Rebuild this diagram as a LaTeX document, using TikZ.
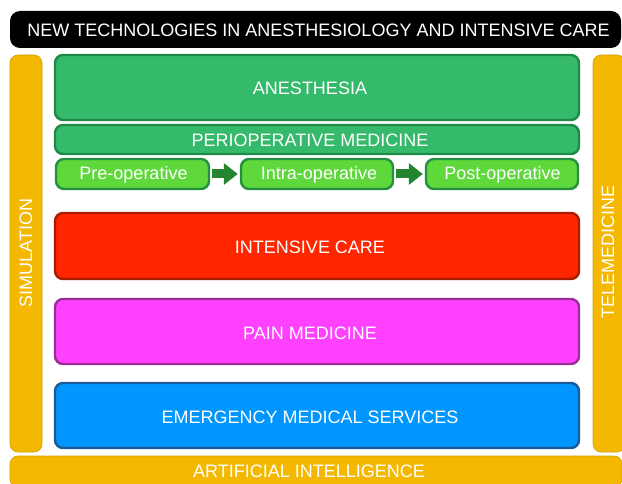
\documentclass[tikz,border=0pt]{standalone}
\usepackage{fontspec}
\setmainfont{Liberation Sans}
\usetikzlibrary{arrows.meta}
\definecolor{gold}{HTML}{F5B800}
\definecolor{goldline}{HTML}{D0A000}
\definecolor{angreen}{HTML}{35B96B}
\definecolor{angreenline}{HTML}{1E8A48}
\definecolor{ltgreen}{HTML}{5ED83B}
\definecolor{ltgreenline}{HTML}{22903E}
\definecolor{arrowgreen}{HTML}{23862F}
\definecolor{icured}{HTML}{FF2600}
\definecolor{icuredline}{HTML}{A81C00}
\definecolor{painmag}{HTML}{FF40FF}
\definecolor{painmagline}{HTML}{9A2C9A}
\definecolor{emsblue}{HTML}{0096FF}
\definecolor{emsblueline}{HTML}{1A5A96}
\tikzset{
  lbl/.style={font=\fontsize{18}{21}\selectfont, text=white, inner sep=0pt, align=center},
  caps/.style={lbl, text height=12.9pt, text depth=0pt},
  box/.style={lbl, rounded corners=8pt, line width=2.4pt},
  bar/.style={lbl, rounded corners=8pt, fill=gold, draw=goldline, line width=0.6pt},
  flow/.style={-{Triangle[length=14pt,width=21pt]}, line width=9pt, draw=arrowgreen, shorten <=2pt, shorten >=2pt}
}
\begin{document}
\begin{tikzpicture}[x=1pt,y=-1pt]
\useasboundingbox (0,0) rectangle (622,484);
\begin{scope}
\clip (0,0) rectangle (622,484);
% title
\node[lbl, fill=black, rounded corners=10pt, minimum width=611pt, minimum height=37pt] (title) at (315.5,29.5) {};
\node[caps] (titleT) at ([xshift=3pt,yshift=-0.5pt]title.center) {NEW TECHNOLOGIES IN ANESTHESIOLOGY AND INTENSIVE CARE};
% side bars
\node[bar, minimum width=32pt, minimum height=397pt] (simbar) at (26,253.5) {};
\node[lbl, rotate=90] (sim) at (26,253) {SIMULATION};
\node[bar, minimum width=32pt, minimum height=397pt] (telbar) at (609,253.5) {};
\node[lbl, rotate=90] (tel) at (608,252) {TELEMEDICINE};
% bottom bar
\node[bar, minimum width=612pt, minimum height=31pt] (ai) at (316,471.5) {};
\node[caps] (aiT) at (309,471.5) {ARTIFICIAL INTELLIGENCE};
% main boxes
\node[box, fill=angreen, draw=angreenline, minimum width=524pt, minimum height=65pt] (anes) at (317,87.5) {};
\node[caps] (anesT) at ([xshift=-7pt,yshift=-1pt]anes.center) {ANESTHESIA};
\node[box, fill=angreen, draw=angreenline, minimum width=524pt, minimum height=29pt] (peri) at (317,139.5) {};
\node[caps] (periT) at ([xshift=-7pt,yshift=-0.5pt]peri.center) {PERIOPERATIVE MEDICINE};
\node[box, fill=ltgreen, draw=ltgreenline, minimum width=153pt, minimum height=30pt] (pre) at (132.5,174) {};
\node[lbl] (preT) at ([xshift=1pt,yshift=-1pt]pre.center) {Pre-operative};
\node[box, fill=ltgreen, draw=ltgreenline, minimum width=152pt, minimum height=30pt] (intra) at (317,174) {};
\node[lbl] (intraT) at ([xshift=2pt,yshift=-1pt]intra.center) {Intra-operative};
\node[box, fill=ltgreen, draw=ltgreenline, minimum width=152pt, minimum height=30pt] (post) at (502,174) {};
\node[lbl] (postT) at ([xshift=0.5pt,yshift=-1pt]post.center) {Post-operative};
\draw[flow] (pre.east) -- (intra.west);
\draw[flow] (intra.east) -- (post.west);
\node[box, fill=icured, draw=icuredline, minimum width=524pt, minimum height=66pt] (icu) at (317,246) {};
\node[caps] (icuT) at ([xshift=-7pt,yshift=-1.5pt]icu.center) {INTENSIVE CARE};
\node[box, fill=painmag, draw=painmagline, minimum width=524pt, minimum height=65pt] (pain) at (317,331.5) {};
\node[caps] (painT) at ([xshift=-7pt,yshift=-1.5pt]pain.center) {PAIN MEDICINE};
\node[box, fill=emsblue, draw=emsblueline, minimum width=524pt, minimum height=65pt] (ems) at (317,415.5) {};
\node[caps] (emsT) at ([xshift=-7pt,yshift=-2pt]ems.center) {EMERGENCY MEDICAL SERVICES};
\end{scope}
\end{tikzpicture}
\end{document}
